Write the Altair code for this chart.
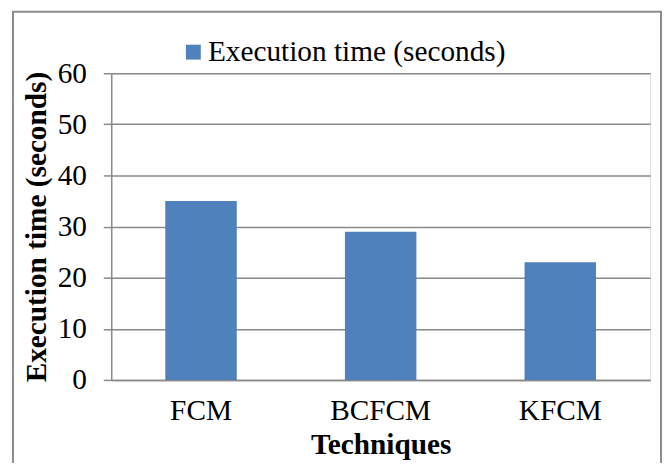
import altair as alt
import pandas as pd

categories = ["FCM", "BCFCM", "KFCM"]
values = [35, 29, 23]
series_name = "Execution time (seconds)"
y_ticks = [0, 10, 20, 30, 40, 50, 60]

df = pd.DataFrame({"Technique": categories, "Value": values, "Series": [series_name] * 3})

FONT = "Liberation Serif"
GRID = "#8a8a8a"
FS = 29.5

bars = alt.Chart(df).mark_bar(size=72).encode(
    x=alt.X("Technique:N", sort=categories,
            scale=alt.Scale(paddingInner=0.6, paddingOuter=0.3),
            axis=alt.Axis(title="Techniques", labelAngle=0, tickSize=0, labelPadding=17,
                          labelFontSize=FS, labelFont=FONT, labelColor="black",
                          titleFontSize=FS, titleFont=FONT, titleFontWeight="bold",
                          titleColor="black", titleBaseline="alphabetic", titleY=74,
                          domainColor=GRID, domainWidth=1.5, grid=False)),
    y=alt.Y("Value:Q", scale=alt.Scale(domain=[0, 60], nice=False),
            axis=alt.Axis(title="Execution time (seconds)", values=y_ticks,
                          tickSize=8, tickColor=GRID, tickWidth=1.5, labelPadding=17,
                          labelFontSize=FS, labelFont=FONT, labelColor="black",
                          titleFontSize=FS, titleFont=FONT, titleFontWeight="bold",
                          titleColor="black", titleX=-66, titleY=154.5,
                          titleBaseline="alphabetic", titleAngle=-90, titleAlign="center",
                          domainColor=GRID, domainWidth=1.5,
                          grid=True, gridColor=GRID, gridWidth=1.5)),
    color=alt.Color("Series:N", scale=alt.Scale(domain=[series_name], range=["#4f81bd"]),
                    legend=alt.Legend(title=None, orient="none", legendX=68, legendY=-36,
                                      symbolType="square", symbolSize=225, symbolStrokeWidth=0,
                                      labelFontSize=FS, labelFont=FONT, labelColor="black",
                                      labelOffset=0, labelLimit=400)),
)

border = alt.Chart(pd.DataFrame({"a": [0]})).mark_rect(
    fill=None, stroke="#8c8c8c", strokeWidth=2
).encode(
    x=alt.value(-99), x2=alt.value(554), y=alt.value(-62), y2=alt.value(420)
)

chart = alt.layer(border, bars).properties(
    width=543, height=309,
    padding={"left": 104, "top": 64, "right": 13, "bottom": 82},
    autosize=alt.AutoSizeParams(type="none"),
).configure_view(stroke=None).configure(background="white")

chart.save("out.html", embed_options={"renderer": "svg", "actions": False})
